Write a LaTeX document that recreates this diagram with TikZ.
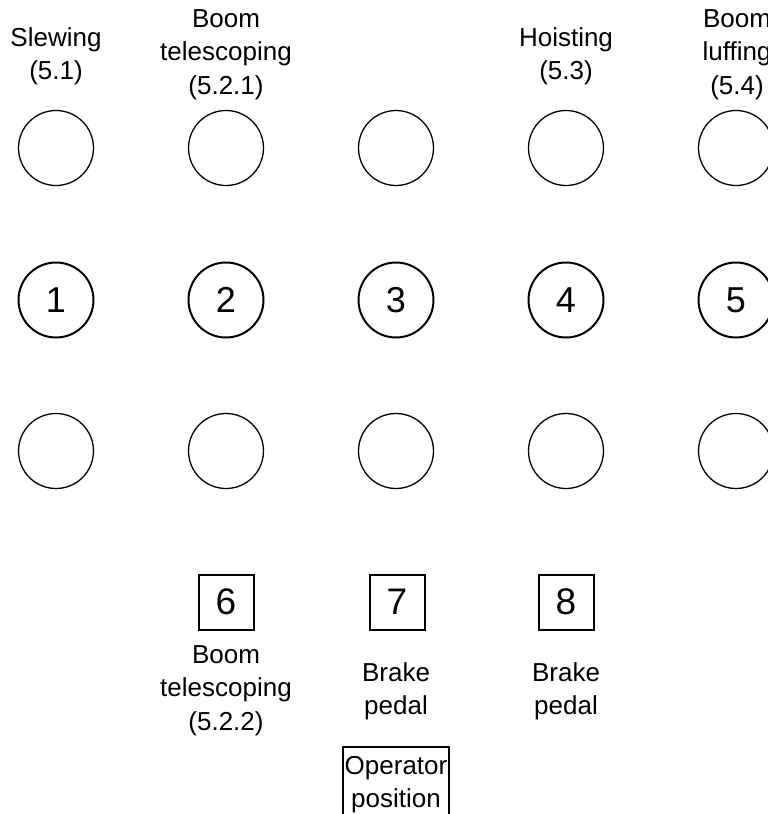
\documentclass[tikz,border=0pt]{standalone}
\usepackage{fontspec}
\setmainfont{Liberation Sans}
\begin{document}
\begin{tikzpicture}[x=1pt,y=-1pt,
  lbl/.style={anchor=north, align=center, inner sep=0pt, font=\fontsize{26}{33.5}\selectfont},
  knob/.style={circle, draw, line width=1.3pt, minimum size=75pt, inner sep=0pt},
  lever/.style={knob, line width=2pt, font=\fontsize{36}{40}\selectfont},
  pedal/.style={rectangle, draw, line width=2pt, minimum size=55pt, inner sep=0pt, font=\fontsize{37}{40}\selectfont},
  boxline/.style={line width=2pt}]
\useasboundingbox (0,0) rectangle (768,814);
\foreach \i/\x in {1/56,2/226,3/396,4/566,5/736} {
  \node[knob] (t\i) at (\x,148) {};
  \node[lever] (m\i) at (\x,300) {\i};
  \node[knob] (b\i) at (\x,451) {};
}
\node[pedal] (p6) at (226,602) {6};
\node[pedal] (p7) at (397,602) {7};
\node[pedal] (p8) at (566,602) {8};
\node[lbl] (l1) at (56,27) {Slewing\\(5.1)};
\node[lbl] (l2) at (226,9) {Boom\\telescoping\\(5.2.1)};
\node[lbl] (l4) at (566,27) {Hoisting\\(5.3)};
\node[lbl] (l5) at (737,9) {Boom\\luffing\\(5.4)};
\node[lbl] (l6) at (226,645) {Boom\\telescoping\\(5.2.2)};
\node[lbl] (l7) at (396,662) {Brake\\pedal};
\node[lbl] (l8) at (566,662) {Brake\\pedal};
\node[lbl] (op) at (396,756) {Operator\\position};
\draw[boxline] (343,840) |- (449,747) -- (449,840);
\end{tikzpicture}
\end{document}
